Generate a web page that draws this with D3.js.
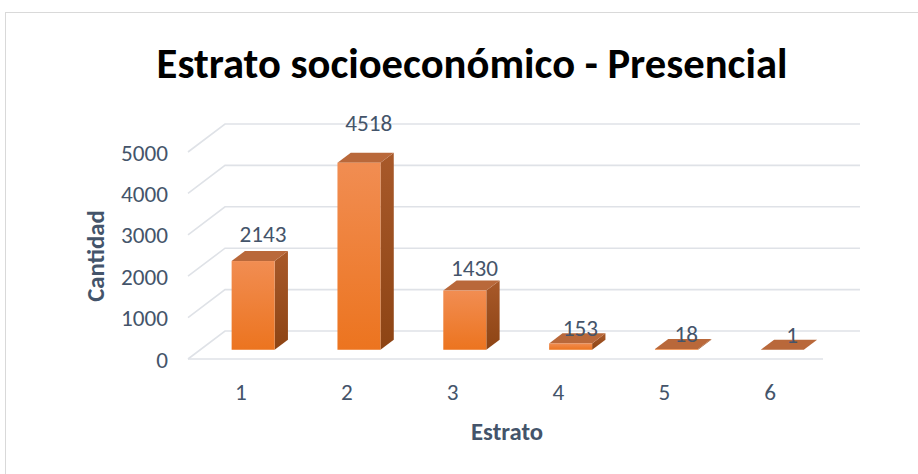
<!DOCTYPE html>
<html>
<head>
<meta charset="utf-8">
<script src="https://cdn.jsdelivr.net/npm/d3@7"></script>
<style>
  html, body { margin: 0; padding: 0; background: #ffffff; }
  svg { display: block; }
  text { font-family: Carlito, Lato, "Open Sans", sans-serif; }
</style>
</head>
<body>
<svg id="chart" width="918" height="474"></svg>
<script>
// Estrato socioeconómico - Presencial
const categories = ["1", "2", "3", "4", "5", "6"];
const values = [2143, 4518, 1430, 153, 18, 1];
const yTicks = [0, 1000, 2000, 3000, 4000, 5000];
const title = "Estrato socioeconómico - Presencial";
const xTitle = "Estrato";
const yTitle = "Cantidad";

const svg = d3.select("#chart");
const W = 918, H = 474;

// font size that gives a string a set width
function sizeFor(str, width, weight) {
  const probe = svg.append("text").attr("font-size", 20).attr("font-weight", weight || "normal").text(str);
  const w = probe.node().getComputedTextLength();
  probe.remove();
  return 20 * width / w;
}
const numSize = sizeFor("5000", 47);
const axisTitleSize = sizeFor("Estrato", 72, "bold");

// chart area frame
svg.append("rect")
  .attr("x", 5.5).attr("y", 12.5)
  .attr("width", W + 10).attr("height", H + 10)
  .attr("fill", "#ffffff").attr("stroke", "#d9d9d9").attr("stroke-width", 1);

// oblique projection: depth 0 = front of floor, depth 1 = back wall
const DX = 37, DY = -28;
const proj = (x, y, d) => [x + DX * d, y + DY * d];

// front plane scales
const x = d3.scaleBand().domain(categories).range([188, 823]);
const y = d3.scaleLinear().domain([0, 5000]).range([359, 152]);
// data label placement along the value axis
const yLabel = d3.scaleLinear().domain([0, 5000]).range([335, 100.4]);

const gridColor = "#dfe2e7";
const textColor = "#44546a";

// gridlines: side wall diagonals + back wall horizontals
const grid = svg.append("g").attr("fill", "none").attr("stroke", gridColor).attr("stroke-width", 1.6);
yTicks.forEach(t => {
  const [bx, by] = proj(188, y(t), 1);
  grid.append("path").attr("d", `M188,${y(t)}L${bx},${by}L${bx + (823 - 188)},${by}`);
});
// front floor edge
grid.append("line").attr("x1", 188).attr("x2", 823).attr("y1", y(0)).attr("y2", y(0));

// gradients
const defs = svg.append("defs");
const gFront = defs.append("linearGradient").attr("id", "front").attr("x1", 0).attr("y1", 0).attr("x2", 0).attr("y2", 1);
gFront.append("stop").attr("offset", "0%").attr("stop-color", "#f18d52");
gFront.append("stop").attr("offset", "100%").attr("stop-color", "#ec741f");
const gSide = defs.append("linearGradient").attr("id", "side").attr("x1", 0).attr("y1", 0).attr("x2", 0).attr("y2", 1);
gSide.append("stop").attr("offset", "0%").attr("stop-color", "#a8592a");
gSide.append("stop").attr("offset", "100%").attr("stop-color", "#8d4414");

// bars
const D0 = 0.33, D1 = 0.69;
const barW = 43;
const bars = svg.append("g");
categories.forEach((c, i) => {
  const v = values[i];
  const cx = x(c) + x.bandwidth() / 2;
  const [fx0, fyBase] = proj(cx - barW / 2, y(0), D0);
  const [, fyTop] = proj(cx, y(v), D0);
  const fx1 = fx0 + barW;
  const ddx = DX * (D1 - D0), ddy = DY * (D1 - D0);
  const g = bars.append("g");
  // side face
  g.append("path")
    .attr("d", `M${fx1},${fyTop}L${fx1 + ddx},${fyTop + ddy}L${fx1 + ddx},${fyBase + ddy}L${fx1},${fyBase}Z`)
    .attr("fill", "url(#side)");
  // top face
  g.append("path")
    .attr("d", `M${fx0},${fyTop}L${fx0 + ddx},${fyTop + ddy}L${fx1 + ddx},${fyTop + ddy}L${fx1},${fyTop}Z`)
    .attr("fill", "#b9683a");
  // front face
  if (fyBase - fyTop > 0.3) {
    g.append("rect")
      .attr("x", fx0).attr("y", fyTop)
      .attr("width", barW).attr("height", fyBase - fyTop)
      .attr("fill", "url(#front)");
  }
  // data label
  svg.append("text")
    .attr("x", cx + 12 + 10)
    .attr("y", yLabel(v))
    .attr("text-anchor", "middle")
    .attr("dominant-baseline", "central")
    .attr("font-size", numSize)
    .attr("fill", textColor)
    .text(v);
});

// value axis labels
const yAxis = svg.append("g")
  .attr("transform", "translate(168,0)")
  .call(d3.axisLeft(y).tickValues(yTicks).tickSize(0).tickPadding(0).tickFormat(d3.format("d")));
yAxis.select(".domain").remove();
yAxis.selectAll("text")
  .attr("font-size", numSize)
  .attr("fill", textColor)
  .attr("dy", "0.35em")
  .style("font-family", "Carlito, Lato, 'Open Sans', sans-serif");

// category axis labels
const xAxis = svg.append("g")
  .attr("transform", "translate(0,392)")
  .call(d3.axisBottom(x).tickSize(0).tickPadding(0));
xAxis.select(".domain").remove();
xAxis.selectAll("text")
  .attr("font-size", numSize)
  .attr("fill", textColor)
  .attr("dy", "0.35em")
  .style("font-family", "Carlito, Lato, 'Open Sans', sans-serif");

// axis titles
svg.append("text")
  .attr("x", 507).attr("y", 431)
  .attr("text-anchor", "middle").attr("dominant-baseline", "central")
  .attr("font-size", axisTitleSize).attr("font-weight", "bold").attr("fill", textColor)
  .text(xTitle);
svg.append("text")
  .attr("transform", "translate(95,256) rotate(-90)")
  .attr("text-anchor", "middle").attr("dominant-baseline", "central")
  .attr("font-size", axisTitleSize).attr("font-weight", "bold").attr("fill", textColor)
  .text(yTitle);

// chart title, sized to its line
const t = svg.append("text")
  .attr("x", 472).attr("y", 63)
  .attr("text-anchor", "middle").attr("dominant-baseline", "central")
  .attr("font-size", sizeFor(title, 631, "bold")).attr("font-weight", "bold").attr("fill", "#000000")
  .text(title);
</script>
</body>
</html>
